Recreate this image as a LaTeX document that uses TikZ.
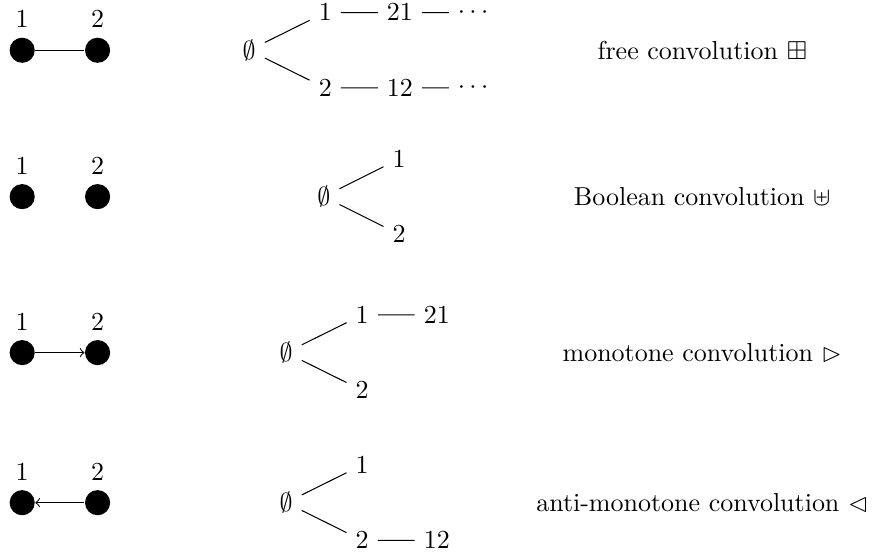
\documentclass[tikz,border=0pt]{standalone}
\usepackage{amssymb}
\begin{document}
\begin{tikzpicture}[
    vertex/.style={circle, fill=black, inner sep=0pt, minimum size=0.34cm},
    edgeline/.style={line width=0.4pt}
  ]
  \useasboundingbox (0,0) rectangle (11.85,-7.54);

  % Free: vertices 1 and 2 joined by a line
  \node [vertex, label=above:1] (fa) at (0.30,-0.68) {};
  \node [vertex, label=above:2] (fb) at (1.32,-0.68) {};
  \draw [edgeline] (fa) -- (fb);

  % Free: tree of words
  \node (fe) at (3.37,-0.68) {$\emptyset$};
  \node (f1) at (4.40,-0.17) {$1$};
  \node (f21) at (5.41,-0.17) {$21$};
  \node (fdu) at (6.40,-0.17) {$\cdots$};
  \node (f2) at (4.40,-1.19) {$2$};
  \node (f12) at (5.41,-1.19) {$12$};
  \node (fdl) at (6.40,-1.19) {$\cdots$};
  \draw [edgeline] (fe) -- (f1) -- (f21) -- (fdu);
  \draw [edgeline] (fe) -- (f2) -- (f12) -- (fdl);
  \node (ftext) at (9.50,-0.68) {free convolution $\boxplus$};

  % Boolean: vertices 1 and 2, no edge
  \node [vertex, label=above:1] (ba) at (0.30,-2.66) {};
  \node [vertex, label=above:2] (bb) at (1.32,-2.66) {};

  % Boolean: tree of words
  \node (be) at (4.38,-2.66) {$\emptyset$};
  \node (b1) at (5.40,-2.15) {$1$};
  \node (b2) at (5.40,-3.17) {$2$};
  \draw [edgeline] (be) -- (b1);
  \draw [edgeline] (be) -- (b2);
  \node (btext) at (9.50,-2.66) {Boolean convolution $\uplus$};

  % Monotone: arrow from 1 to 2
  \node [vertex, label=above:1] (ma) at (0.30,-4.77) {};
  \node [vertex, label=above:2] (mb) at (1.32,-4.77) {};
  \draw [edgeline, ->] (ma) -- (mb);

  % Monotone: tree of words
  \node (me) at (3.87,-4.77) {$\emptyset$};
  \node (m1) at (4.90,-4.26) {$1$};
  \node (m21) at (5.91,-4.26) {$21$};
  \node (m2) at (4.90,-5.28) {$2$};
  \draw [edgeline] (me) -- (m1) -- (m21);
  \draw [edgeline] (me) -- (m2);
  \node (mtext) at (9.50,-4.77) {monotone convolution $\rhd$};

  % Anti-monotone: arrow from 2 to 1
  \node [vertex, label=above:1] (aa) at (0.30,-6.80) {};
  \node [vertex, label=above:2] (ab) at (1.32,-6.80) {};
  \draw [edgeline, ->] (ab) -- (aa);

  % Anti-monotone: tree of words
  \node (ae) at (3.87,-6.80) {$\emptyset$};
  \node (a1) at (4.90,-6.29) {$1$};
  \node (a2) at (4.90,-7.31) {$2$};
  \node (a12) at (5.91,-7.31) {$12$};
  \draw [edgeline] (ae) -- (a1);
  \draw [edgeline] (ae) -- (a2) -- (a12);
  \node (atext) at (9.50,-6.80) {anti-monotone convolution $\lhd$};
\end{tikzpicture}
\end{document}
